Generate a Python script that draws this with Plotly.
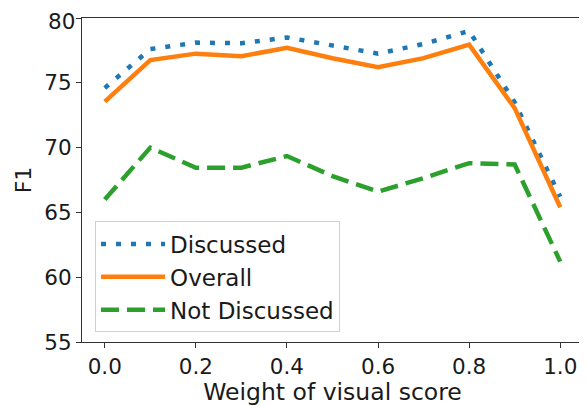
import plotly.graph_objects as go

weights = [0.0, 0.1, 0.2, 0.3, 0.4, 0.5, 0.6, 0.7, 0.8, 0.9, 1.0]
discussed = [74.6, 77.6, 78.1, 78.05, 78.5, 77.9, 77.25, 78.0, 79.0, 73.5, 66.2]
overall = [73.55, 76.75, 77.25, 77.05, 77.7, 76.9, 76.2, 76.9, 77.95, 73.05, 65.4]
not_discussed = [66.0, 70.0, 68.45, 68.45, 69.35, 67.8, 66.6, 67.65, 68.8, 68.7, 61.2]

y_ticks = [55, 60, 65, 70, 75, 80]
y_labels = ["55", "60", "65", "70", "75", ""]  # top label drawn as annotation below
top_label = "80"

fig = go.Figure()
fig.add_trace(go.Scatter(x=weights, y=discussed, mode="lines", name="Discussed",
                         line=dict(color="#1f77b4", width=4.5, dash="5px,10px")))
fig.add_trace(go.Scatter(x=weights, y=overall, mode="lines", name="Overall",
                         line=dict(color="#ff7f0e", width=4.5)))
fig.add_trace(go.Scatter(x=weights, y=not_discussed, mode="lines", name="Not Discussed",
                         line=dict(color="#2ca02c", width=4.5, dash="18px,8px")))

axis_common = dict(showgrid=False, zeroline=False, showline=True, linecolor="#333333",
                   linewidth=1, mirror=True, ticks="outside", ticklen=5, tickwidth=1,
                   tickcolor="#333333", tickfont=dict(size=21.5, color="#1a1a1a"))

fig.update_layout(
    width=579, height=398,
    margin=dict(l=74, r=4, t=10, b=64),
    paper_bgcolor="white", plot_bgcolor="white",
    font=dict(family="DejaVu Sans", color="#1a1a1a"),
    xaxis=dict(range=[-0.05, 1.05], tickvals=[0, 0.2, 0.4, 0.6, 0.8, 1.0],
               tickformat=".1f",
               title=dict(text="Weight of visual score", font=dict(size=23.5), standoff=3),
               **axis_common),
    yaxis=dict(range=[55, 80], tickvals=y_ticks, ticktext=y_labels,
               title=dict(text="F1", font=dict(size=22), standoff=6),
               **axis_common),
    legend=dict(x=0.026, y=0.372, xanchor="left", yanchor="top",
                bgcolor="rgba(255,255,255,0.8)", bordercolor="#d0d0d0", borderwidth=1,
                font=dict(size=23, color="#1a1a1a"), tracegroupgap=0, itemwidth=64),
    showlegend=True,
)
fig.add_annotation(x=0, xref="paper", y=y_ticks[-1], yref="y", text=top_label,
                   showarrow=False, xanchor="right", yanchor="middle", xshift=-6, yshift=-3,
                   font=dict(size=21.5, color="#1a1a1a"), borderpad=0)

fig.write_html("out.html")
